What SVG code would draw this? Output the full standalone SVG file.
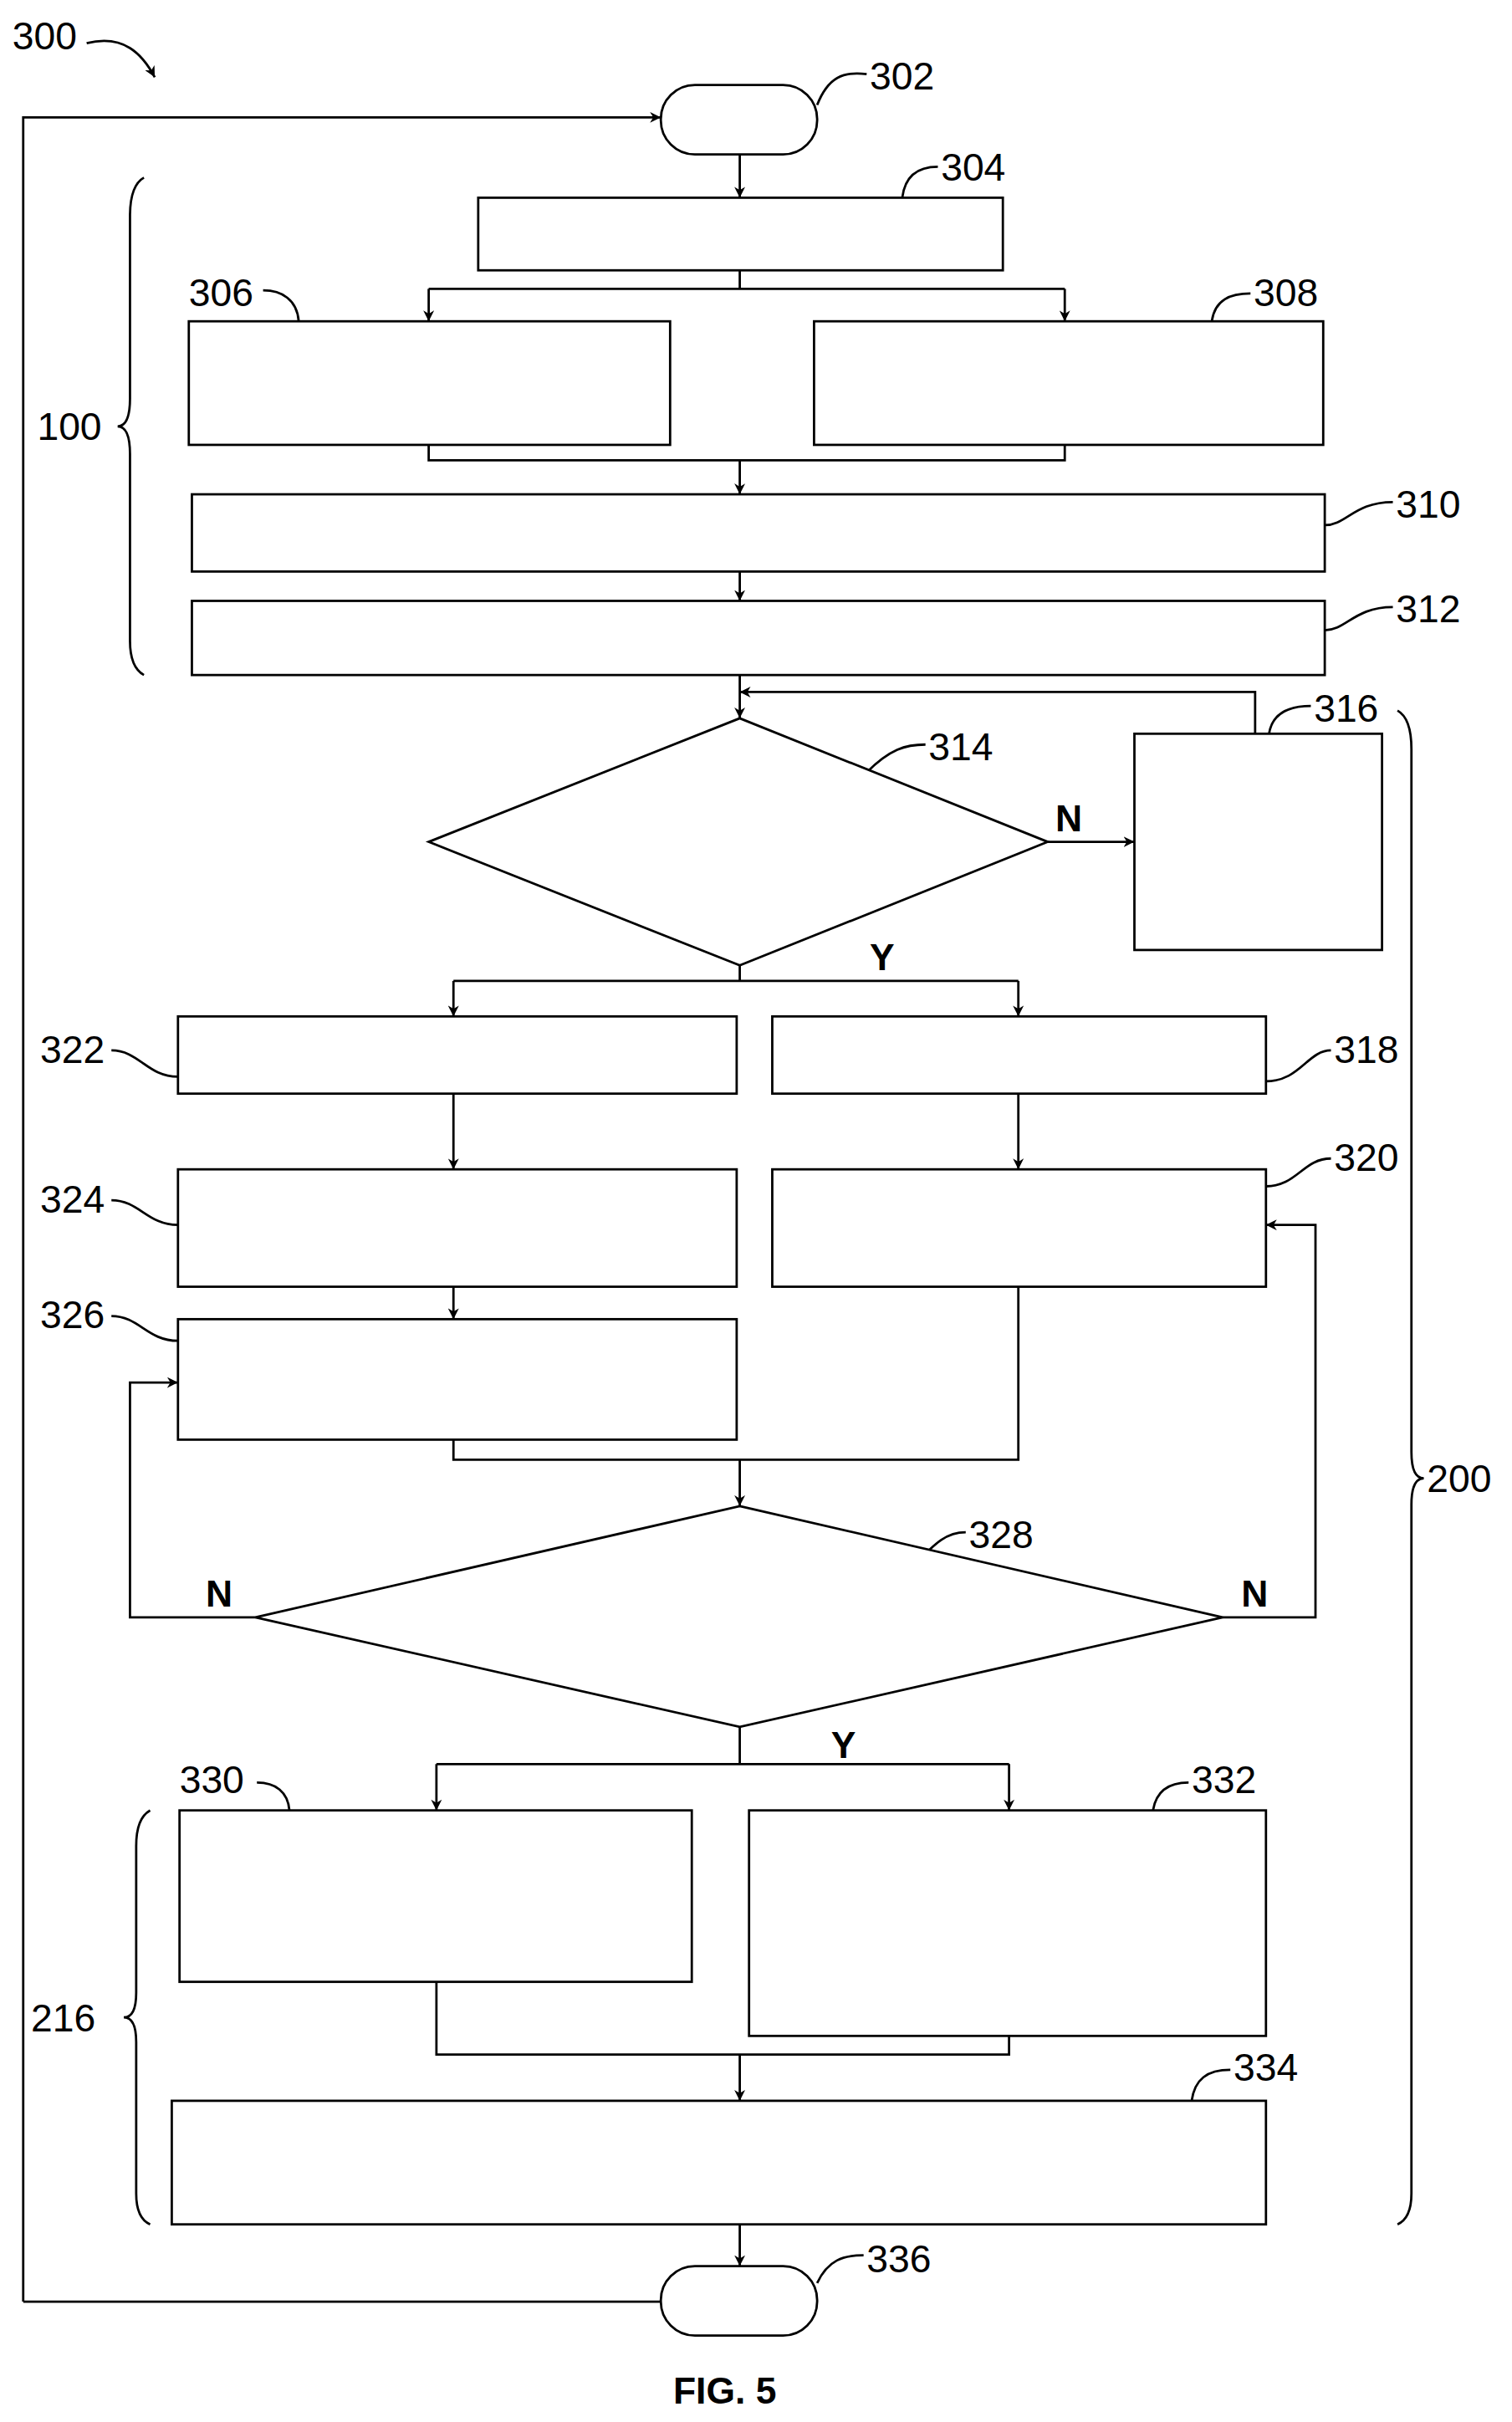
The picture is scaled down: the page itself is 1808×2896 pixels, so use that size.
<svg xmlns="http://www.w3.org/2000/svg" width="1808" height="2896" viewBox="0 0 1808 2896">
<defs>
<marker id="ah" viewBox="0 0 10 10" refX="10" refY="5" markerWidth="7" markerHeight="7" markerUnits="userSpaceOnUse" orient="auto"><path d="M0,0 L10,5 L0,10 L3,5 z" fill="#000"/></marker>
<style>
.b{fill:#fff;stroke:#000;stroke-width:1.5}
.l{fill:none;stroke:#000;stroke-width:1.5}
.a{fill:none;stroke:#000;stroke-width:1.5;marker-end:url(#ah)}
.t{font-family:"Liberation Sans",Arial,sans-serif;font-size:25px;fill:#000}
.n{font-family:"Liberation Sans",Arial,sans-serif;font-size:24px;font-weight:bold;fill:#000}
</style>
</defs>
<rect width="1808" height="2896" fill="#fff"/>
<g transform="scale(1.8506,1.847)">
<g id="labels">
<text class="t" x="8" y="32">300</text>
<path class="a" d="M56,28 C80,22 92,35 100,50"/>
<text class="t" x="562" y="58">302</text><path class="l" d="M528,68 C535,50 545,46 560,48"/>
<text class="t" x="608" y="117">304</text><path class="l" d="M583,128 C585,112 595,108 606,108"/>
<text class="t" x="122" y="198">306</text><path class="l" d="M193,208 C192,194 182,188 170,188"/>
<text class="t" x="810" y="198">308</text><path class="l" d="M783,208 C785,194 795,190 808,190"/>
<text class="t" x="902" y="335">310</text><path class="l" d="M856,340 C870,340 875,325 900,325"/>
<text class="t" x="902" y="403">312</text><path class="l" d="M856,408 C870,408 875,393 900,393"/>
<text class="t" x="600" y="492">314</text><path class="l" d="M560,500 C575,485 585,482 598,482"/>
<text class="t" x="849" y="467">316</text><path class="l" d="M820,475 C822,462 832,457 847,457"/>
<text class="t" x="26" y="688">322</text><path class="l" d="M72,680 C90,680 95,697 115,697"/>
<text class="t" x="862" y="688">318</text><path class="l" d="M818,700 C840,700 845,680 860,680"/>
<text class="t" x="26" y="785">324</text><path class="l" d="M72,777 C90,777 95,793 115,793"/>
<text class="t" x="862" y="758">320</text><path class="l" d="M818,768 C838,768 842,750 860,750"/>
<text class="t" x="26" y="860">326</text><path class="l" d="M72,852 C90,852 95,868 115,868"/>
<text class="t" x="626" y="1002">328</text><path class="l" d="M590,1014 C605,998 612,992 624,992"/>
<text class="t" x="116" y="1161">330</text><path class="l" d="M187,1172 C186,1160 178,1154 166,1154"/>
<text class="t" x="770" y="1161">332</text><path class="l" d="M745,1172 C747,1160 755,1154 768,1154"/>
<text class="t" x="797" y="1347">334</text><path class="l" d="M770,1360 C772,1346 780,1340 795,1340"/>
<text class="t" x="560" y="1471">336</text><path class="l" d="M528,1478 C535,1463 545,1460 558,1460"/>
<text class="t" x="24" y="285">100</text><path class="l" d="M93,115 Q84,120 84,140 L84,258 Q84,276 76,276 Q84,276 84,294 L84,415 Q84,432 93,437"/>
<text class="t" x="20" y="1315">216</text><path class="l" d="M97,1172 Q88,1177 88,1195 L88,1290 Q88,1306 80,1306 Q88,1306 88,1322 L88,1420 Q88,1436 97,1440"/>
<text class="t" x="922" y="966">200</text><path class="l" d="M903,460 Q912,465 912,485 L912,940 Q912,957 920,957 Q912,957 912,974 L912,1420 Q912,1436 903,1440"/>
<text class="n" x="682" y="538">N</text>
<text class="n" x="562" y="628">Y</text>
<text class="n" x="133" y="1040">N</text>
<text class="n" x="802" y="1040">N</text>
<text class="n" x="537" y="1138">Y</text>
<text class="n" x="435" y="1556" font-size="26">FIG. 5</text>
</g>
<g id="connectors">
<path class="a" d="M15,1490 L15,76 L427,76"/>
<path class="l" d="M427,1490 L15,1490"/>
<path class="a" d="M478,100 L478,128"/>
<path class="l" d="M478,175 L478,187 M277,187 L688,187"/>
<path class="a" d="M277,187 L277,208"/><path class="a" d="M688,187 L688,208"/>
<path class="l" d="M277,288 L277,298 L688,298 L688,288"/>
<path class="a" d="M478,298 L478,320"/>
<path class="a" d="M478,370 L478,389"/>
<path class="a" d="M478,437 L478,465"/>
<path class="a" d="M811,475 L811,448 L478,448"/>
<path class="a" d="M677,545 L733,545"/>
<path class="l" d="M478,625 L478,635 M293,635 L658,635"/>
<path class="a" d="M293,635 L293,658"/><path class="a" d="M658,635 L658,658"/>
<path class="a" d="M293,708 L293,757"/><path class="a" d="M658,708 L658,757"/>
<path class="a" d="M293,833 L293,854"/>
<path class="l" d="M293,932 L293,945 L658,945 L658,833"/>
<path class="a" d="M478,945 L478,975"/>
<path class="a" d="M165,1047 L84,1047 L84,895 L115,895"/>
<path class="a" d="M790,1047 L850,1047 L850,793 L818,793"/>
<path class="l" d="M478,1118 L478,1142 M282,1142 L652,1142"/>
<path class="a" d="M282,1142 L282,1172"/><path class="a" d="M652,1142 L652,1172"/>
<path class="l" d="M282,1283 L282,1330 L652,1330 L652,1318"/>
<path class="a" d="M478,1330 L478,1360"/>
<path class="a" d="M478,1440 L478,1467"/>
</g>
<g id="n302"><rect class="b" x="427" y="55" width="101" height="45" rx="22"/></g>
<g id="n304"><rect class="b" x="309" y="128" width="339" height="47"/></g>
<g id="n306"><rect class="b" x="122" y="208" width="311" height="80"/></g>
<g id="n308"><rect class="b" x="526" y="208" width="329" height="80"/></g>
<g id="n310"><rect class="b" x="124" y="320" width="732" height="50"/></g>
<g id="n312"><rect class="b" x="124" y="389" width="732" height="48"/></g>
<g id="n314"><path class="b" d="M478,465 L677,545 L478,625 L277,545 z"/></g>
<g id="n316"><rect class="b" x="733" y="475" width="160" height="140"/></g>
<g id="n322"><rect class="b" x="115" y="658" width="361" height="50"/></g>
<g id="n318"><rect class="b" x="499" y="658" width="319" height="50"/></g>
<g id="n324"><rect class="b" x="115" y="757" width="361" height="76"/></g>
<g id="n320"><rect class="b" x="499" y="757" width="319" height="76"/></g>
<g id="n326"><rect class="b" x="115" y="854" width="361" height="78"/></g>
<g id="n328"><path class="b" d="M478,975 L790,1047 L478,1118 L165,1047 z"/></g>
<g id="n330"><rect class="b" x="116" y="1172" width="331" height="111"/></g>
<g id="n332"><rect class="b" x="484" y="1172" width="334" height="146"/></g>
<g id="n334"><rect class="b" x="111" y="1360" width="707" height="80"/></g>
<g id="n336"><rect class="b" x="427" y="1467" width="101" height="45" rx="22"/></g>
</g>
</svg>
